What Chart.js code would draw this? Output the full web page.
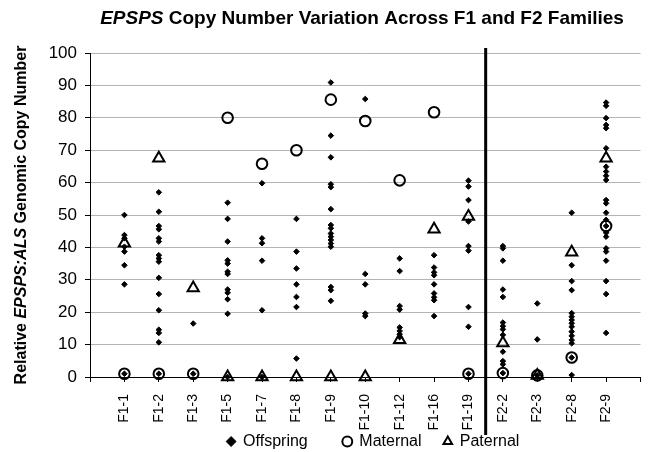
<!DOCTYPE html>
<html>
<head>
<meta charset="utf-8">
<script src="https://cdn.jsdelivr.net/npm/chart.js@4.4.1/dist/chart.umd.min.js"></script>
<style>
  html, body { margin: 0; padding: 0; background: #fff; }
</style>
</head>
<body>
<canvas id="copyChart" width="649" height="452"></canvas>
<script>
var families = ['F1-1', 'F1-2', 'F1-3', 'F1-5', 'F1-7', 'F1-8', 'F1-9', 'F1-10',
                'F1-12', 'F1-16', 'F1-19', 'F2-2', 'F2-3', 'F2-8', 'F2-9'];

// offspring copy numbers, one list per family
var offspring = [
    [50, 43.8, 42.8, 40.2, 38.7, 34.5, 28.6, 1],
    [57, 51, 46.6, 45.6, 42.8, 41.8, 37.6, 36.6, 35.6, 30.6, 25.6, 20.6, 14.6, 13.6, 10.7, 1],
    [16.5, 1],
    [53.8, 48.8, 41.8, 36, 35, 32.5, 31.8, 27, 26, 24, 19.5, 0],
    [59.8, 42.8, 41.3, 35.9, 20.6, 0],
    [48.8, 38.7, 33.5, 28.6, 24.7, 21.6, 5.7],
    [90.9, 74.5, 67.8, 59.5, 58.6, 51.8, 46.9, 45.9, 44.3, 43.3, 42.3, 41.2, 40.2, 27.8, 26.8, 23.5],
    [85.8, 31.8, 28.6, 19.6, 18.8],
    [36.6, 32.7, 21.9, 20.8, 15.3, 14.2, 13.2, 12.3],
    [37.6, 33.8, 32.3, 31.4, 28.6, 25.8, 24.6, 23.7, 18.8],
    [60.6, 58.8, 54.6, 48, 40.4, 39, 21.6, 15.5, 1],
    [40.4, 39.7, 35.9, 27, 24.7, 16.8, 15.7, 14.7, 13, 7.8, 4.9, 3.9, 1.2],
    [22.7, 11.6, 0.5],
    [50.7, 34.5, 29.6, 26.8, 19.7, 18.6, 17.6, 16.6, 15.5, 14, 12.7, 11.4, 10.4, 6, 0.6],
    [84.7, 83.7, 79.9, 77.8, 76.8, 70.6, 64.9, 63.4, 62.1, 60.8, 54.6, 53.6, 50.7, 48.5,
     46.6, 44.5, 43.3, 39.7, 38.7, 35.9, 29.6, 25.6, 13.6]
];
var maternal = [1, 1, 1, 80, 65.8, 70, 85.6, 79, 60.7, 81.7, 1, 1.2, 0.5, 6, 46.6];
var paternal = [41.3, 67.5, 27.5, 0, 0, 0, 0, 0, 11.5, 45.6, 49.5, 10.5, 0.5, 38.5, 67.5];

var fontFam = '"Liberation Sans", Arial, Helvetica, sans-serif';

function toPoints(list) {
    var pts = [];
    for (var i = 0; i < list.length; i++) {
        pts.push({ x: i + 1, y: list[i] });
    }
    return pts;
}

var offspringPts = [];
for (var i = 0; i < offspring.length; i++) {
    for (var j = 0; j < offspring[i].length; j++) {
        offspringPts.push({ x: i + 1, y: offspring[i][j] });
    }
}

// draws a line of text where some parts are italic, centred on (cx, cy)
function drawMixed(ctx, parts, cx, cy, size) {
    var total = 0;
    parts.forEach(function (p) {
        ctx.font = (p[1] ? 'italic ' : '') + 'bold ' + size + 'px ' + fontFam;
        total += ctx.measureText(p[0]).width;
    });
    var x = cx - total / 2;
    ctx.textAlign = 'left';
    ctx.textBaseline = 'middle';
    ctx.fillStyle = '#000';
    parts.forEach(function (p) {
        ctx.font = (p[1] ? 'italic ' : '') + 'bold ' + size + 'px ' + fontFam;
        ctx.fillText(p[0], x, cy);
        x += ctx.measureText(p[0]).width;
    });
}

var extras = {
    id: 'extras',
    afterDraw: function (chart) {
        var ctx = chart.ctx;
        var area = chart.chartArea;
        var xd = chart.scales.x.getPixelForValue(11.5);
        ctx.save();
        // F1 / F2 divider
        ctx.strokeStyle = '#000';
        ctx.lineWidth = 3;
        ctx.beginPath();
        ctx.moveTo(xd, area.top - 5);
        ctx.lineTo(xd, 435);
        ctx.stroke();

        drawMixed(ctx, [['EPSPS', true], [' Copy Number Variation Across F1 and F2 Families', false]],
            362, 19, 19);

        ctx.translate(22, (area.top + area.bottom) / 2);
        ctx.rotate(-Math.PI / 2);
        drawMixed(ctx, [['Relative ', false], ['EPSPS:ALS', true], [' Genomic Copy Number', false]], 0, 0, 16);
        ctx.restore();
    }
};

var legendGaps = ['        ', '     ', ''];

var ctx = document.getElementById('copyChart').getContext('2d');
var copyChart = new Chart(ctx, {
    type: 'scatter',
    data: {
        datasets: [{
            label: 'Offspring',
            data: offspringPts,
            pointStyle: 'rectRot',
            pointRadius: 2.8,
            backgroundColor: '#000',
            borderColor: '#000',
            borderWidth: 1,
            clip: false
        }, {
            label: 'Maternal',
            data: toPoints(maternal),
            pointStyle: 'circle',
            pointRadius: 5.3,
            backgroundColor: 'rgba(255,255,255,0)',
            borderColor: '#000',
            borderWidth: 2,
            clip: false
        }, {
            label: 'Paternal',
            data: toPoints(paternal),
            pointStyle: 'triangle',
            pointRadius: 6.5,
            backgroundColor: 'rgba(255,255,255,0)',
            borderColor: '#000',
            borderWidth: 2,
            clip: false
        }]
    },
    options: {
        responsive: false,
        animation: false,
        events: [],
        layout: { padding: { left: 0, right: 6, top: 53, bottom: 0 } },
        scales: {
            x: {
                type: 'linear',
                min: 0,
                max: 16,
                afterFit: function (scale) {
                    scale.height = 56.5;
                    // rotated labels should not eat into the plot width
                    scale.paddingLeft = 0;
                    scale.paddingRight = 0;
                },
                grid: { drawOnChartArea: false, drawTicks: true, tickLength: 5, tickColor: '#000' },
                border: { display: true, color: '#000', width: 1 },
                ticks: {
                    stepSize: 1,
                    autoSkip: false,
                    minRotation: 90,
                    maxRotation: 90,
                    padding: 12,
                    color: '#000',
                    font: { family: fontFam, size: 14 },
                    callback: function (v) {
                        return (v >= 1 && v <= families.length) ? families[v - 1] : '';
                    }
                }
            },
            y: {
                min: 0,
                max: 100,
                afterFit: function (scale) { scale.width = 90; },
                grid: { color: '#b4b4b4', lineWidth: 1, drawTicks: true, tickLength: 5, tickColor: '#000' },
                border: { display: true, color: '#000', width: 1 },
                ticks: {
                    stepSize: 10,
                    padding: 8,
                    color: '#000',
                    font: { family: fontFam, size: 17 }
                }
            }
        },
        plugins: {
            legend: {
                position: 'bottom',
                fullSize: false,
                maxHeight: 18.5,
                labels: {
                    usePointStyle: true,
                    boxWidth: 8,
                    boxHeight: 7,
                    padding: 0,
                    color: '#000',
                    font: { family: fontFam, size: 16 },
                    generateLabels: function (chart) {
                        var items = Chart.defaults.plugins.legend.labels.generateLabels(chart);
                        for (var k = 0; k < items.length; k++) {
                            items[k].text += legendGaps[k];
                        }
                        // empty lead entry nudges the row a little to the right
                        items.unshift({
                            text: '',
                            fillStyle: 'rgba(0,0,0,0)',
                            strokeStyle: 'rgba(0,0,0,0)',
                            lineWidth: 0,
                            pointStyle: 'circle',
                            hidden: false,
                            datasetIndex: -1
                        });
                        return items;
                    }
                }
            },
            title: { display: false },
            tooltip: { enabled: false }
        }
    },
    plugins: [extras]
});
</script>
</body>
</html>
